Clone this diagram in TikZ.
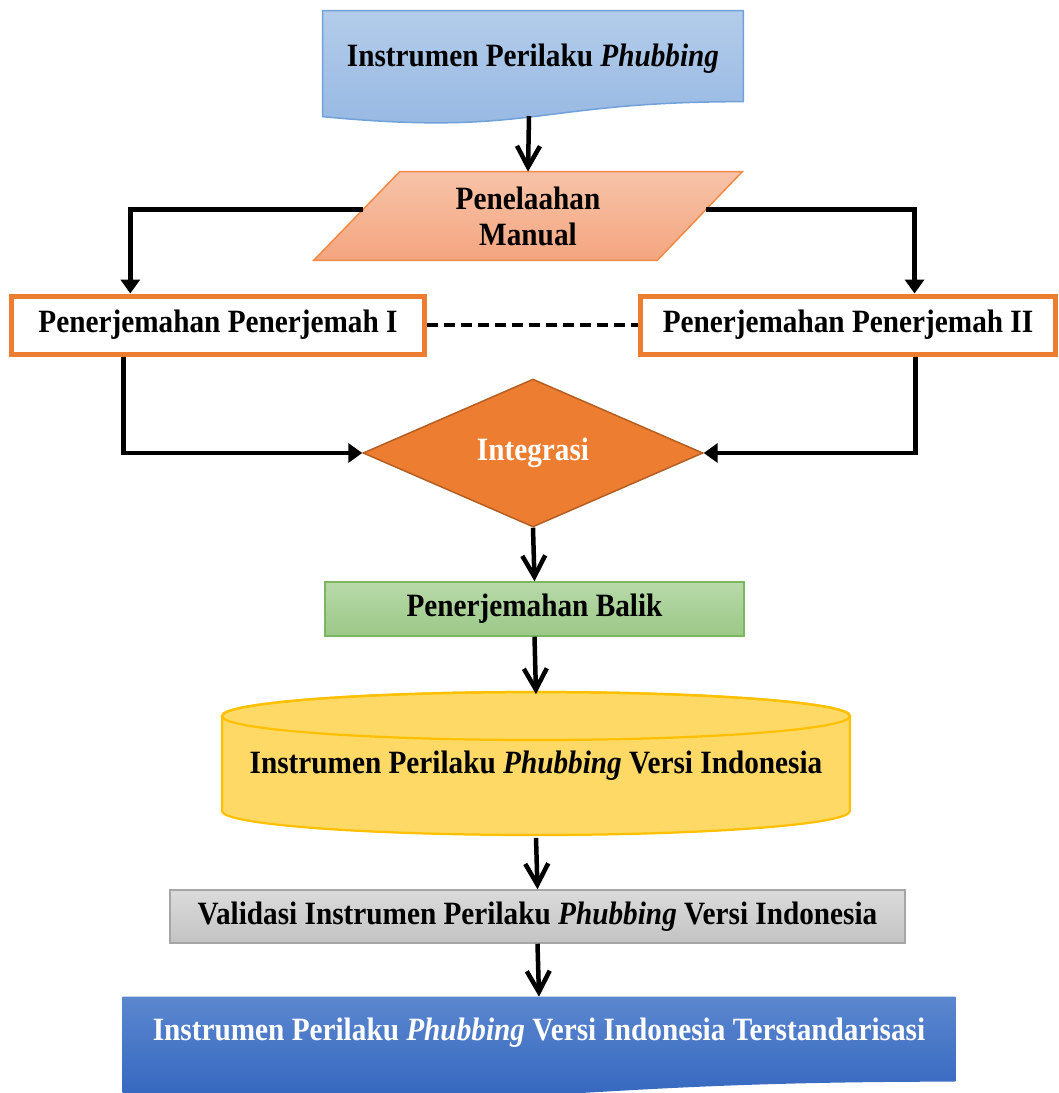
\documentclass[tikz,border=0pt]{standalone}
\usepackage{fontspec}
\setmainfont{Liberation Serif}[FakeStretch=0.9]
\usepackage{tikz}
\usetikzlibrary{arrows.meta,calc,shapes.geometric,backgrounds}

\definecolor{docTop}{HTML}{B3CCEA}
\definecolor{docBot}{HTML}{95B7E2}
\definecolor{docLine}{HTML}{70A1DA}
\definecolor{paraTop}{HTML}{F7C3A9}
\definecolor{paraBot}{HTML}{F4A57F}
\definecolor{paraLine}{HTML}{F08A45}
\definecolor{boxLine}{HTML}{ED7D31}
\definecolor{diamFill}{HTML}{ED7D31}
\definecolor{diamLine}{HTML}{B55E22}
\definecolor{greenTop}{HTML}{B8DAA9}
\definecolor{greenBot}{HTML}{9BC887}
\definecolor{greenLine}{HTML}{7DB662}
\definecolor{cylFill}{HTML}{FFD966}
\definecolor{cylLine}{HTML}{FFC000}
\definecolor{grayTop}{HTML}{DBDBDB}
\definecolor{grayBot}{HTML}{C3C3C3}
\definecolor{grayLine}{HTML}{A6A6A6}
\definecolor{blueTop}{HTML}{5C87CF}
\definecolor{blueBot}{HTML}{2E62BD}

\begin{document}
\begin{tikzpicture}[x=0.02cm, y=-0.02cm, every node/.style={font=\bfseries\fontsize{18.5}{20.4}\selectfont, inner sep=0pt, align=center}]
	
	\tikzset{edge/.style = {line width=0.09cm, -{Straight Barb[length=0.42cm,width=0.46cm]}}}
	\tikzset{elbow/.style = {line width=0.09cm, -{Triangle[length=0.28cm,width=0.38cm]}}}
	
	\useasboundingbox (0,0) rectangle (1059,1093);
	
	\node[minimum width=8.4cm, minimum height=1.92cm] (1)  at (533,59)   {Instrumen Perilaku \textit{Phubbing}};
	\coordinate (1b) at (529,116);
	\node[minimum width=8.56cm, minimum height=1.76cm] (2)  at (528,216)   {Penelaahan\\Manual};
	
	\node[draw=boxLine, line width=0.1cm, fill=white, minimum width=8.27cm, minimum height=1.16cm] (3)  at (218,325)   {Penerjemahan Penerjemah I};
	\node[draw=boxLine, line width=0.1cm, fill=white, minimum width=8.32cm, minimum height=1.16cm] (4)  at (848,325)   {Penerjemahan Penerjemah II};
	
	\node[diamond, fill=diamFill, draw=diamLine, line width=0.03cm, text=white, minimum width=6.8cm, minimum height=2.96cm] (5)  at (533,453)   {Integrasi};
	\node[top color=greenTop, bottom color=greenBot, draw=greenLine, line width=0.03cm, minimum width=8.38cm, minimum height=1.08cm] (6)  at (534.5,609)   {Penerjemahan Balik};
	\node[minimum width=12.56cm, minimum height=2.86cm] (7)  at (536,766)   {Instrumen Perilaku \textit{Phubbing} Versi Indonesia};
	\node[top color=grayTop, bottom color=grayBot, draw=grayLine, line width=0.03cm, minimum width=14.7cm, minimum height=1.06cm] (8)  at (537.5,916.5)   {Validasi Instrumen Perilaku \textit{Phubbing} Versi Indonesia};
	\node[text=white, minimum width=16.64cm, minimum height=1.44cm] (9)  at (539,1033)   {Instrumen Perilaku \textit{Phubbing} Versi Indonesia Terstandarisasi};
	
	\begin{scope}[on background layer]
		\clip (0,0) rectangle (1059,1093);
		\shade[top color=docTop, bottom color=docBot, draw=docLine, line width=0.03cm] (1.north west) -- (1.north east) -- ($(1.north east)+(0,91)$) .. controls ($(1.north)+(0,91)$) and ($(1.north)+(0,126)$) .. ($(1.north west)+(0,106)$) -- cycle;
		\shade[top color=paraTop, bottom color=paraBot, draw=paraLine, line width=0.03cm] ($(2.north west)+(86,0)$) -- (2.north east) -- ($(2.south east)+(-85,0)$) -- (2.south west) -- cycle;
		\filldraw[fill=cylFill, draw=cylLine, line width=0.045cm] (222,716) -- (222,811) arc[start angle=180, end angle=360, x radius=6.28cm, y radius=0.48cm] -- (850,716) arc[start angle=0, end angle=180, x radius=6.28cm, y radius=0.48cm] -- cycle;
		\draw[cylLine, line width=0.045cm] (536,716) ellipse[x radius=6.28cm, y radius=0.48cm];
		\shade[top color=blueTop, bottom color=blueBot] (9.north west) -- (9.north east) -- ($(9.north east)+(0,85)$) .. controls ($(9.north)+(0,85)$) and ($(9.north)+(0,117)$) .. ($(9.north west)+(0,99)$) -- cycle;
	\end{scope}
	
	\foreach \source/\dest in {1b/2.north,5.south/6.north,6.south/7.north,7.south/8.north,8.south/9.north}
	\draw[edge] (\source) -- (\dest);
	
	\draw[elbow] ($(2.north west)+(48.9,38)$) -| ($(3.north west)+(121.5,0)$);
	\draw[elbow] ($(2.north east)+(-36.7,38)$) -| ($(4.north west)+(277,0)$);
	\draw[elbow] ($(3.south west)+(114.5,0)$) |- (5.west);
	\draw[elbow] ($(4.south west)+(278,0)$) |- (5.east);
	
	\draw[line width=0.08cm, dash pattern=on 0.22cm off 0.12cm] (3) -- (4);
	
\end{tikzpicture}
\end{document}
